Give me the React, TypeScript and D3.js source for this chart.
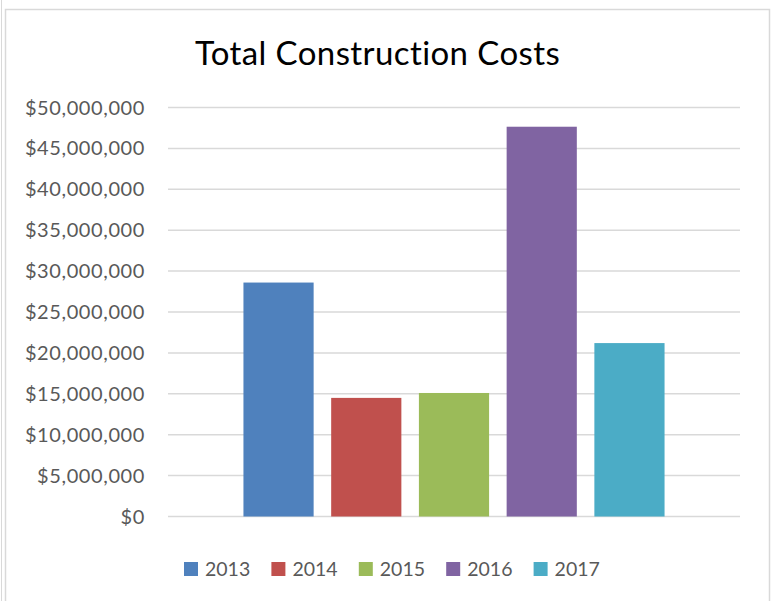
import React from "react";
import * as d3 from "d3";

const title = "Total Construction Costs";
const years = ["2013", "2014", "2015", "2016", "2017"];
const costs = [28600000, 14500000, 15100000, 47650000, 21200000];
const colors = ["#4f81bd", "#c0504d", "#9bbb59", "#8064a2", "#4bacc6"];
const yTicks = [0, 5000000, 10000000, 15000000, 20000000, 25000000, 30000000, 35000000, 40000000, 45000000, 50000000];

const W = 778;
const H = 601;
const FONT = "Lato, 'Open Sans', sans-serif";

export default function App() {
  const left = 168;
  const right = 740;
  const top = 107.5;
  const bottom = 516.5;

  const y = d3.scaleLinear().domain([0, 50000000]).range([bottom, top]);
  const x = d3
    .scaleBand<string>()
    .domain(years)
    .range([left, right])
    .paddingInner(0.2)
    .paddingOuter(0.86);
  const fmt = d3.format("$,");

  const legendX = d3.scaleBand<string>().domain(years).range([184, 621]);

  return (
    <div style={{ position: "absolute", left: 0, top: 0 }}>
      <svg
        width={W}
        height={H}
        style={{ display: "block", background: "#fff", fontVariantLigatures: "none" }}
      >
        <line x1={1.5} y1={0} x2={1.5} y2={H} stroke="#d9d9d9" strokeWidth={1} />
        <rect x={5.5} y={9.5} width={764} height={H} fill="#fff" stroke="#d9d9d9" strokeWidth={1.5} />
        <text
          x={377.5}
          y={65}
          textAnchor="middle"
          fontFamily={FONT}
          fontSize={33}
          letterSpacing={0.4}
          fill="#000"
        >
          {title}
        </text>
        {yTicks.map((t) => (
          <g key={t}>
            <line x1={left} x2={right} y1={y(t)} y2={y(t)} stroke="#d9d9d9" strokeWidth={1.5} />
            <text
              x={145}
              y={y(t)}
              dy="0.35em"
              textAnchor="end"
              fontFamily={FONT}
              fontSize={20}
              letterSpacing={0.6}
              fill="#595959"
            >
              {fmt(t)}
            </text>
          </g>
        ))}
        {years.map((yr, i) => (
          <rect
            key={yr}
            x={x(yr)}
            width={x.bandwidth()}
            y={y(costs[i])}
            height={y(0) - y(costs[i])}
            fill={colors[i]}
          />
        ))}
        {years.map((yr, i) => (
          <g key={"lg" + yr} transform={`translate(${legendX(yr)},0)`}>
            <rect x={0} y={562} width={14} height={14} fill={colors[i]} />
            <text x={21} y={576} fontFamily={FONT} fontSize={19.5} fill="#595959">
              {yr}
            </text>
          </g>
        ))}
      </svg>
    </div>
  );
}
